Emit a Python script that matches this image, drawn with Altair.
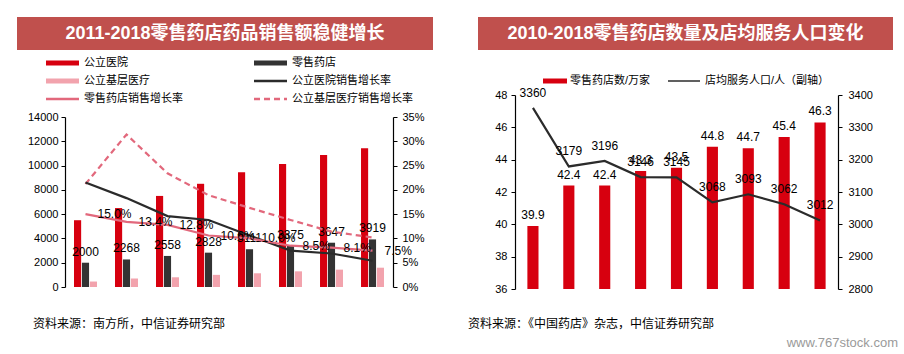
import altair as alt
import pandas as pd

# ---------------- data ----------------
years_left = ["2011", "2012", "2013", "2014", "2015", "2016", "2017", "2018"]
public_hospital_sales = [5500, 6500, 7500, 8500, 9450, 10130, 10870, 11420]
retail_pharmacy_sales = [2000, 2268, 2558, 2828, 3111, 3375, 3647, 3919]
primary_care_sales = [450, 700, 800, 1000, 1130, 1290, 1430, 1590]
hospital_growth = [21.5, 18.3, 14.6, 13.8, 10.6, 7.5, 6.9, 5.4]
retail_growth = [15.0, 13.4, 12.8, 10.6, 10.0, 8.5, 8.1, 7.5]
primary_growth = [21.2, 31.4, 23.4, 18.9, 16.3, 13.8, 11.4, 10.2]

years_right = ["2010", "2011", "2012", "2013", "2014", "2015", "2016", "2017", "2018"]
store_count = [39.9, 42.4, 42.4, 43.3, 43.5, 44.8, 44.7, 45.4, 46.3]
people_per_store = [3360, 3179, 3196, 3146, 3145, 3068, 3093, 3062, 3012]

bar_series = ["公立医院", "零售药店", "公立基层医疗"]
line_series = ["公立医院销售增长率", "零售药店销售增长率", "公立基层医疗销售增长率"]
left_title = "2011-2018零售药店药品销售额稳健增长"
right_title = "2010-2018零售药店数量及店均服务人口变化"
right_legend = ["零售药店数/万家", "店均服务人口/人（副轴）"]
source_left = "资料来源：南方所，中信证券研究部"
source_right = "资料来源：《中国药店》杂志，中信证券研究部"
watermark = "www.767stock.com"

# ---------------- style ----------------
FONT = "Liberation Sans, Noto Sans CJK SC, sans-serif"
RED = "#D7000F"
DARK = "#333333"
LIGHTPINK = "#F2A3AD"
PINKLINE = "#E2687C"
BANNER = "#C0504D"

one = pd.DataFrame({"k": [0]})


def txt(s, x, y, size=11, color="black", align="left", weight="normal"):
    return alt.Chart(one).mark_text(
        text=s, align=align, baseline="middle", font=FONT, fontSize=size,
        color=color, fontWeight=weight
    ).encode(x=alt.value(x), y=alt.value(y))


def rule(x1, x2, y, color, width, dash=None):
    kw = dict(color=color, strokeWidth=width)
    if dash:
        kw["strokeDash"] = dash
    return alt.Chart(one).mark_rule(**kw).encode(
        x=alt.value(x1), x2=alt.value(x2), y=alt.value(y))


def rect(x1, x2, y1, y2, color):
    return alt.Chart(one).mark_rect(color=color).encode(
        x=alt.value(x1), x2=alt.value(x2), y=alt.value(y1), y2=alt.value(y2))


axis_common = dict(
    title=None, grid=False, labelFont=FONT, labelFontSize=11, labelColor="black",
    domainColor="black", tickColor="black", domainWidth=1.2, zindex=1,
)

# ---------------- left panel ----------------
OX1, OY1 = 65, 95
W1, H1 = 328, 192
TOP1 = 22

bar_df = pd.DataFrame({
    "year": years_left * 3,
    "series": [bar_series[0]] * 8 + [bar_series[1]] * 8 + [bar_series[2]] * 8,
    "value": public_hospital_sales + retail_pharmacy_sales + primary_care_sales,
})
xL = alt.X("year:N", sort=years_left,
           scale=alt.Scale(paddingInner=0.44, paddingOuter=0.22),
           axis=alt.Axis(labelAngle=0, ticks=False, labelPadding=4, **axis_common))
xL_noaxis = alt.X("year:N", sort=years_left,
                  scale=alt.Scale(paddingInner=0.44, paddingOuter=0.22), axis=None)
ybar_scale = alt.Scale(domain=[0, 14000], range=[H1, TOP1], nice=False, zero=True)
yrate_scale = alt.Scale(domain=[0, 35], range=[H1, TOP1], nice=False, zero=True)

bars = alt.Chart(bar_df).mark_bar().encode(
    x=xL,
    xOffset=alt.XOffset("series:N", sort=bar_series,
                        scale=alt.Scale(paddingInner=0.1, paddingOuter=0)),
    y=alt.Y("value:Q", scale=ybar_scale,
            axis=alt.Axis(values=list(range(0, 14001, 2000)), tickSize=4, format="d",
                          labelPadding=3, **axis_common)),
    color=alt.Color("series:N", sort=bar_series,
                    scale=alt.Scale(domain=bar_series, range=[RED, DARK, LIGHTPINK]),
                    legend=None),
)

retail_df = pd.DataFrame({"year": years_left, "value": retail_pharmacy_sales})
bar_text = alt.Chart(retail_df).mark_text(
    font=FONT, fontSize=12, color="black", baseline="middle", dy=-11
).encode(x=xL_noaxis, y=alt.Y("value:Q", scale=ybar_scale, axis=None),
         text=alt.Text("value:Q", format="d"))


def rate_line(vals, color, dash=None, with_axis=False):
    df = pd.DataFrame({"year": years_left, "rate": vals})
    kw = dict(color=color, strokeWidth=2.2)
    if dash:
        kw["strokeDash"] = dash
    if with_axis:
        ax = alt.Axis(orient="right", values=list(range(0, 36, 5)), tickSize=4,
                      labelPadding=5, labelExpr="datum.value + '%'", **axis_common)
    else:
        ax = None
    return alt.Chart(df).mark_line(**kw).encode(
        x=xL_noaxis, y=alt.Y("rate:Q", scale=yrate_scale, axis=ax))


line_primary = rate_line(primary_growth, PINKLINE, dash=[6, 4], with_axis=True)
line_hospital = rate_line(hospital_growth, "#2B2B2B")
line_retail = rate_line(retail_growth, PINKLINE)

rate_df = pd.DataFrame({"year": years_left, "rate": retail_growth,
                        "label": [f"{v:.1f}%" for v in retail_growth]})
rate_text = alt.Chart(rate_df).mark_text(
    font=FONT, fontSize=12, color="black", align="left", baseline="middle", dx=12
).encode(x=xL_noaxis, y=alt.Y("rate:Q", scale=yrate_scale, axis=None), text="label:N")


def L(x):
    return x - OX1


def T(y):
    return y - OY1


left_decor = [
    rect(L(17), L(433), T(17), T(50), BANNER),
    txt(left_title, (L(17) + L(433)) / 2, T(34), size=18, color="white",
        align="center", weight="bold"),
    rule(L(46), L(79), T(63), RED, 5),
    txt(bar_series[0], L(84), T(63)),
    rule(L(254), L(287), T(63), DARK, 5),
    txt(bar_series[1], L(292), T(63)),
    rule(L(46), L(79), T(81), LIGHTPINK, 5),
    txt(bar_series[2], L(84), T(81)),
    rule(L(254), L(287), T(81), "#2B2B2B", 2.5),
    txt(line_series[0], L(292), T(81)),
    rule(L(46), L(79), T(99), PINKLINE, 2.5),
    txt(line_series[1], L(84), T(99)),
    rule(L(254), L(287), T(99), PINKLINE, 2.5, dash=[6, 4]),
    txt(line_series[2], L(292), T(99)),
    txt(source_left, L(33), T(324), size=12),
]

bg = rect(L(0), L(904), T(0), T(354), "white")

left = alt.layer(
    bg, bars, bar_text, line_primary, line_hospital, line_retail, rate_text, *left_decor
).resolve_scale(y="independent").properties(width=W1, height=H1)

# ---------------- right panel ----------------
OX2, OY2 = 515, 95
W2, H2 = 323, 194

right_df = pd.DataFrame({"year": years_right, "stores": store_count,
                         "people": people_per_store})
xR = alt.X("year:N", sort=years_right,
           scale=alt.Scale(paddingInner=0.69, paddingOuter=0.345),
           axis=alt.Axis(labelAngle=0, ticks=False, labelPadding=4, **axis_common))
xR_noaxis = alt.X("year:N", sort=years_right,
                  scale=alt.Scale(paddingInner=0.69, paddingOuter=0.345), axis=None)
ystore_scale = alt.Scale(domain=[36, 48], nice=False, zero=False)
ypeople_scale = alt.Scale(domain=[2800, 3400], nice=False, zero=False)

store_bars = alt.Chart(right_df).mark_bar(color=RED).encode(
    x=xR,
    y=alt.Y("stores:Q", scale=ystore_scale,
            axis=alt.Axis(values=list(range(36, 49, 2)), tickSize=4, labelPadding=4,
                          **axis_common)),
    y2=alt.datum(36),
)
store_text = alt.Chart(right_df).mark_text(
    font=FONT, fontSize=12, color="black", baseline="middle", dy=-11
).encode(x=xR_noaxis, y=alt.Y("stores:Q", scale=ystore_scale, axis=None),
         text=alt.Text("stores:Q", format=".1f"))
people_line = alt.Chart(right_df).mark_line(color="#2B2B2B", strokeWidth=2.2).encode(
    x=xR_noaxis,
    y=alt.Y("people:Q", scale=ypeople_scale,
            axis=alt.Axis(orient="right", values=list(range(2800, 3401, 100)),
                          format="d", tickSize=4, labelPadding=6, **axis_common)),
)
people_text = alt.Chart(right_df).mark_text(
    font=FONT, fontSize=12, color="black", baseline="middle", dy=-15
).encode(x=xR_noaxis, y=alt.Y("people:Q", scale=ypeople_scale, axis=None),
         text=alt.Text("people:Q", format="d"))


def R(x):
    return x - OX2


def RT(y):
    return y - OY2


right_decor = [
    rect(R(478), R(893), RT(17), RT(50), BANNER),
    txt(right_title, (R(478) + R(893)) / 2, RT(34), size=18, color="white",
        align="center", weight="bold"),
    rule(R(543), R(567), RT(81), RED, 5),
    txt(right_legend[0], R(570), RT(81)),
    rule(R(668), R(700), RT(81), "#2B2B2B", 1.5),
    txt(right_legend[1], R(705), RT(81)),
    txt(source_right, R(468), RT(324), size=12),
    txt(watermark, R(898), RT(343), size=13, color="#9A9A9A", align="right"),
]

right = alt.layer(
    store_bars, store_text, people_line, people_text, *right_decor
).resolve_scale(y="independent").properties(width=W2, height=H2)

chart = alt.hconcat(left, right, spacing=OX2 - (OX1 + W1), bounds="flush",
                    padding=0).configure_view(stroke=None).properties(background="white")

chart.save("out.html", embed_options={"renderer": "svg", "actions": False})
